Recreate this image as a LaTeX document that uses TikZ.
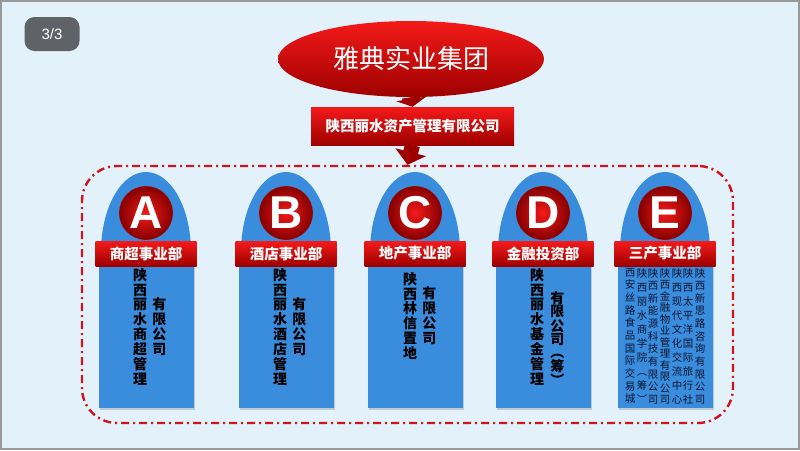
\documentclass[tikz,border=0pt]{standalone}
\usepackage{fontspec}
\setmainfont{Noto Sans CJK SC}
\newfontfamily\latinfont{Liberation Sans}
\usetikzlibrary{arrows.meta,positioning,calc,shapes.geometric,shadows}
\definecolor{PageBlue}{HTML}{E3F1FB}
\definecolor{CardBlue}{HTML}{3A8CDD}
\definecolor{HeadRed}{HTML}{F41A1A}
\definecolor{DeepRed}{HTML}{9E0000}
\definecolor{FrameRed}{HTML}{D0141C}
\definecolor{BadgeGray}{HTML}{5F6368}
\definecolor{InkNavy}{HTML}{0C1530}

\tikzset{
  redbar/.style={top color=HeadRed, bottom color=DeepRed, text=white, inner sep=0pt,
    font=\fontsize{14.5}{16}\selectfont\bfseries},
  cardbody/.style={fill=CardBlue, inner sep=0pt,
    drop shadow={opacity=0.35, shadow xshift=1.5pt, shadow yshift=-1.5pt}},
  letterball/.style={circle, inner sep=0pt, minimum size=53pt, draw=DeepRed, line width=0.8pt,
    inner color=HeadRed, outer color=DeepRed!85!black, text=white,
    font=\latinfont\fontsize{46}{46}\selectfont\bfseries},
  coltext/.style={align=center, inner sep=0pt, text=black,
    font=\fontsize{14}{14.9}\selectfont\bfseries},
  ecol/.style={align=center, inner sep=0pt, text=InkNavy, anchor=north,
    font=\fontsize{10.5}{#1}\selectfont},
  blockarrow/.style={draw=DeepRed, line width=#1}
}

\begin{document}
\begin{tikzpicture}[x=1pt,y=-1pt]
  \useasboundingbox (0,0) rectangle (800,450);
  \fill[PageBlue] (0,0) rectangle (800,450);
  \draw[line width=2pt, gray!80] (1,1) rectangle (799,449);

  % page badge
  \node (page) [rounded corners=10pt, fill=BadgeGray, minimum width=55, minimum height=34,
    text=white, font=\latinfont\fontsize{15}{15}\selectfont] at (52,34) {3/3};

  % top of the tree
  \node (jituan) [ellipse, minimum width=266, minimum height=76, inner sep=0pt,
    top color=HeadRed, bottom color=DeepRed, text=white,
    font=\fontsize{26}{26}\selectfont] at (411,59) {雅典实业集团};
  \node (zichan) [redbar, minimum width=203, minimum height=38] at (412.5,126)
    {陕西丽水资产管理有限公司};
  \node (grp) [draw=FrameRed, line width=2.4pt, rounded corners=35pt,
    dash pattern=on 8pt off 4pt on 2pt off 4pt,
    minimum width=651, minimum height=257] at (407.5,294.5) {};

  \draw[blockarrow=18pt, -{Triangle[width=30pt,length=8pt]}] (jituan.south) -- (zichan.north);
  \draw[blockarrow=15pt, -{Triangle[width=31pt,length=13pt]}] (zichan.south) -- (grp.north);

  % five divisions
  \foreach \cx/\l/\t in {146/A/商超事业部, 286/B/酒店事业部, 415/C/地产事业部,
                          543/D/金融投资部, 665/E/三产事业部} {
    \fill[CardBlue] (\cx-45,252) arc[start angle=180, end angle=360, x radius=45, y radius=80];
    \node (body\l) [cardbody, minimum width=95, minimum height=153, anchor=north] at (\cx,255) {};
    \node (lab\l) [redbar, minimum width=101, minimum height=25] at (\cx,253.5) {\t};
    \node (ball\l) [letterball] at (\cx,213) {\l};
  }

  % company names
  \node (txtA1) [coltext, anchor=north] at (140,268) {陕\\西\\丽\\水\\商\\超\\管\\理};
  \node (txtA2) [coltext, right=5pt of txtA1] {有\\限\\公\\司};
  \node (txtB1) [coltext, anchor=north] at (280,268) {陕\\西\\丽\\水\\酒\\店\\管\\理};
  \node (txtB2) [coltext, right=5pt of txtB1] {有\\限\\公\\司};
  \node (txtC1) [coltext, anchor=north] at (410,272) {陕\\西\\林\\信\\置\\地};
  \node (txtC2) [coltext, right=5pt of txtC1] {有\\限\\公\\司};
  \node (txtD1) [coltext, anchor=north] at (537,268) {陕\\西\\丽\\水\\基\\金\\管\\理};
  \node (txtD2) [coltext, font=\fontsize{14}{12.5}\selectfont\bfseries,
    right=6pt of txtD1.south east, anchor=south west] {有\\限\\公\\司\\︵\\筹\\︶};

  \node (colE1) [ecol=12.65] at (630,268) {西\\安\\丝\\路\\食\\品\\国\\际\\交\\易\\城};
  \node (colE2) [ecol=14.06] at (642,268) {陕\\西\\丽\\水\\商\\学\\院\\︵\\筹\\︶};
  \node (colE3) [ecol=12.65] at (653,268) {陕\\西\\新\\能\\源\\科\\技\\有\\限\\公\\司};
  \node (colE4) [ecol=11.5] at (665,268) {陕\\西\\金\\融\\物\\业\\管\\理\\有\\限\\公\\司};
  \node (colE5) [ecol=14.06] at (677,268) {陕\\西\\现\\代\\文\\化\\交\\流\\中\\心};
  \node (colE6) [ecol=14.06] at (688,268) {陕\\西\\太\\平\\洋\\国\\际\\旅\\行\\社};
  \node (colE7) [ecol=12.65] at (700,268) {陕\\西\\新\\思\\路\\咨\\询\\有\\限\\公\\司};
\end{tikzpicture}
\end{document}
